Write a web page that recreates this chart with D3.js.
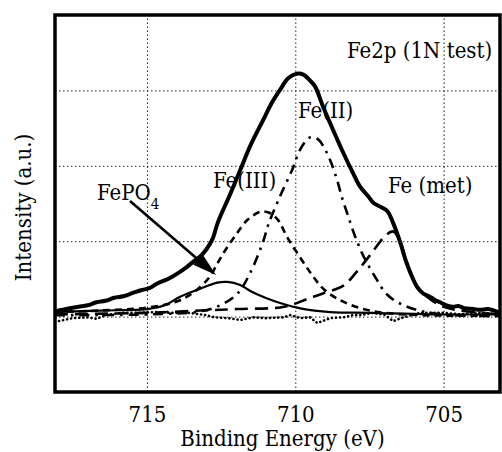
<!DOCTYPE html>
<html>
<head>
<meta charset="utf-8">
<script src="https://cdn.jsdelivr.net/npm/d3@7"></script>
<style>
  body { margin: 0; background: #fff; }
  svg text { font-family: "DejaVu Serif", serif; font-stretch: condensed; }
</style>
</head>
<body>
<div id="chart"></div>
<script>
// binding energy ticks (eV) and intensity grid levels (a.u.)
const xTicks = [715, 710, 705];
const yGrid = [1, 2, 3, 4];

// measured spectrum / envelope [BE, intensity]
const envelope = [
  [718.1, 1.07], [717.6, 1.11], [717.3, 1.13], [717.0, 1.15], [716.7, 1.19], [716.4, 1.21],
  [716.1, 1.25], [715.8, 1.27], [715.5, 1.31], [715.2, 1.35], [714.9, 1.38], [714.65, 1.44],
  [714.4, 1.48], [714.15, 1.53], [713.9, 1.59], [713.65, 1.66], [713.4, 1.74], [713.2, 1.8],
  [713.0, 1.89], [712.8, 2.02], [712.6, 2.26], [712.2, 2.62], [711.86, 2.94], [711.5, 3.28],
  [711.08, 3.61], [710.8, 3.83], [710.51, 4.01], [710.24, 4.16], [709.95, 4.22], [709.73, 4.21],
  [709.5, 4.13], [709.33, 4.05], [709.06, 3.78], [708.72, 3.47], [708.38, 3.17], [708.05, 2.9],
  [707.81, 2.72], [707.55, 2.6], [707.37, 2.51], [707.1, 2.45], [706.9, 2.4], [706.7, 2.24],
  [706.46, 1.98], [706.29, 1.76], [706.12, 1.58], [705.89, 1.39], [705.7, 1.31], [705.55, 1.28],
  [705.4, 1.25], [705.3, 1.22], [705.12, 1.19], [704.9, 1.15], [704.68, 1.13], [704.5, 1.14],
  [704.3, 1.11], [704.0, 1.1], [703.77, 1.09], [703.5, 1.1], [703.3, 1.08], [703.1, 1.05]
];

// fitted components [BE, intensity]
const fePO4 = [
  [718.1, 1.06], [716.6, 1.08], [715.0, 1.1], [714.4, 1.15], [713.9, 1.26], [713.2, 1.37],
  [712.63, 1.45], [712.29, 1.46], [711.86, 1.42], [711.52, 1.34], [711.01, 1.25], [710.51, 1.18],
  [709.83, 1.11], [708.82, 1.06], [707.47, 1.05], [705.45, 1.03], [703.1, 1.03]
];
const fe3 = [
  [718.1, 1.06], [716.6, 1.08], [715.0, 1.12], [714.0, 1.2], [713.4, 1.33], [712.9, 1.52],
  [712.62, 1.71], [712.36, 1.88], [711.96, 2.11], [711.62, 2.28], [711.18, 2.39], [710.9, 2.38],
  [710.6, 2.29], [710.27, 2.05], [709.83, 1.78], [709.43, 1.55], [709.06, 1.37], [708.5, 1.22],
  [707.8, 1.11], [707.0, 1.05], [705.8, 1.02], [703.1, 1.01]
];
const fe2 = [
  [718.1, 1.02], [714.9, 1.03], [713.2, 1.07], [712.53, 1.15], [711.96, 1.3], [711.52, 1.58],
  [711.08, 2.0], [710.91, 2.22], [710.51, 2.6], [710.09, 2.96], [709.83, 3.22], [709.49, 3.38],
  [709.23, 3.35], [709.0, 3.22], [708.8, 3.05], [708.59, 2.81], [708.42, 2.57], [708.25, 2.37],
  [708.0, 2.08], [707.7, 1.8], [707.3, 1.52], [706.9, 1.29], [706.35, 1.15], [705.45, 1.05],
  [704.1, 1.01], [703.1, 1.01]
];
const feMet = [
  [718.1, 1.03], [715.0, 1.05], [713.2, 1.08], [711.96, 1.1], [710.5, 1.12], [710.17, 1.15],
  [709.62, 1.23], [709.05, 1.31], [708.38, 1.41], [707.94, 1.59], [707.47, 1.82], [706.97, 2.07],
  [706.7, 2.13], [706.46, 1.99], [706.29, 1.78], [706.12, 1.59], [705.89, 1.39], [705.55, 1.26],
  [705.12, 1.15], [704.6, 1.09], [703.77, 1.05], [703.1, 1.03]
];
// fit residual (dotted)
const residual = [
  [718.1, 0.93], [717.8, 0.955], [717.5, 0.98], [717.0, 0.99], [716.7, 0.97], [716.4, 1.02],
  [715.83, 1.05], [715.3, 1.05], [714.72, 1.06], [714.15, 1.05], [713.6, 1.05], [713.03, 1.02],
  [712.7, 0.99], [712.29, 0.98], [711.85, 0.955], [711.41, 0.99], [711.0, 0.98], [710.4, 0.99],
  [710.17, 1.02], [709.83, 0.98], [709.5, 0.99], [709.26, 0.915], [708.82, 0.98], [708.38, 0.99],
  [708.05, 1.02], [707.8, 1.02], [707.37, 1.05], [706.97, 1.02], [706.7, 0.94], [706.36, 0.99],
  [705.79, 1.05], [705.35, 1.05], [705.0, 1.05], [704.44, 1.03], [703.77, 1.05], [703.1, 1.03]
];

const FONT = "DejaVu Serif";
const W = 502, H = 452;
const margin = { top: 15, right: 2, bottom: 60, left: 55 };
const innerW = W - margin.left - margin.right;
const innerH = H - margin.top - margin.bottom;

const svg = d3.select("#chart").append("svg")
  .attr("width", W).attr("height", H);

const g = svg.append("g")
  .attr("transform", `translate(${margin.left},${margin.top})`);

const x = d3.scaleLinear().domain([718.1, 703.1]).range([0, innerW]);
const y = d3.scaleLinear().domain([0, 5]).range([innerH, 0]);

g.append("defs").append("clipPath").attr("id", "plot-clip")
  .append("rect").attr("width", innerW).attr("height", innerH);

// x axis with dotted grid
const xAxis = g.append("g")
  .attr("transform", `translate(0,${innerH})`)
  .call(d3.axisBottom(x).tickValues(xTicks).tickSize(-innerH).tickPadding(14).tickFormat(d3.format("d")))
  .attr("font-family", FONT);
xAxis.select(".domain").remove();
xAxis.selectAll("line")
  .attr("stroke", "#222").attr("stroke-width", 1).attr("stroke-dasharray", "1.5,2.5");
xAxis.selectAll("text").attr("font-size", 22).attr("fill", "#000");

const yAxis = g.append("g")
  .call(d3.axisLeft(y).tickValues(yGrid).tickSize(-innerW).tickFormat(""));
yAxis.select(".domain").remove();
yAxis.selectAll("line")
  .attr("stroke", "#222").attr("stroke-width", 1).attr("stroke-dasharray", "1.5,2.5");

const line = d3.line().x(d => x(d[0])).y(d => y(d[1]));
const smooth = d3.line().x(d => x(d[0])).y(d => y(d[1])).curve(d3.curveCatmullRom.alpha(0.5));

const curves = g.append("g").attr("clip-path", "url(#plot-clip)");

curves.append("path").datum(residual)
  .attr("d", line).attr("fill", "none").attr("stroke", "#000")
  .attr("stroke-width", 2.6).attr("stroke-linecap", "round").attr("stroke-dasharray", "0.1,4");

curves.append("path").datum(fePO4)
  .attr("d", smooth).attr("fill", "none").attr("stroke", "#000").attr("stroke-width", 2.2);

curves.append("path").datum(fe3)
  .attr("d", smooth).attr("fill", "none").attr("stroke", "#000")
  .attr("stroke-width", 2.6).attr("stroke-dasharray", "7,5");

curves.append("path").datum(fe2)
  .attr("d", smooth).attr("fill", "none").attr("stroke", "#000")
  .attr("stroke-width", 2.6).attr("stroke-dasharray", "10,6,2.5,6");

curves.append("path").datum(feMet)
  .attr("d", smooth).attr("fill", "none").attr("stroke", "#000")
  .attr("stroke-width", 2.6).attr("stroke-dasharray", "13,7");

curves.append("path").datum(envelope)
  .attr("d", smooth).attr("fill", "none").attr("stroke", "#000")
  .attr("stroke-width", 4).attr("stroke-linejoin", "round");

// frame
g.append("rect")
  .attr("width", innerW).attr("height", innerH)
  .attr("fill", "none").attr("stroke", "#000").attr("stroke-width", 3.5);

// labels
const label = (tx, ty, txt) => svg.append("text")
  .attr("x", tx).attr("y", ty).attr("font-size", 22).attr("fill", "#000")
  .attr("font-family", FONT).text(txt);

label(347, 58, "Fe2p (1N test)");
label(298, 118, "Fe(II)");
label(213, 188, "Fe(III)");
label(388, 193, "Fe (met)");

const fp = svg.append("text").attr("x", 97).attr("y", 200).attr("font-size", 22)
  .attr("fill", "#000").attr("font-family", FONT);
fp.append("tspan").text("FePO");
fp.append("tspan").attr("font-size", 15).attr("dy", 9).text("4");

// arrow to the FePO4 component
const ax0 = 130, ay0 = 201, ax1 = 216, ay1 = 275;
const ang = Math.atan2(ay1 - ay0, ax1 - ax0);
const hl = 24, hw = 7;
svg.append("line")
  .attr("x1", ax0).attr("y1", ay0)
  .attr("x2", ax1 - Math.cos(ang) * hl * 0.8).attr("y2", ay1 - Math.sin(ang) * hl * 0.8)
  .attr("stroke", "#000").attr("stroke-width", 2.6);
const bx = ax1 - Math.cos(ang) * hl, by = ay1 - Math.sin(ang) * hl;
svg.append("path")
  .attr("d", `M${ax1},${ay1} L${bx + Math.sin(ang) * hw},${by - Math.cos(ang) * hw} L${bx - Math.sin(ang) * hw},${by + Math.cos(ang) * hw} Z`)
  .attr("fill", "#000");

// axis titles
svg.append("text")
  .attr("x", margin.left + innerW / 2 + 5).attr("y", 446)
  .attr("text-anchor", "middle").attr("font-size", 22).attr("fill", "#000")
  .attr("font-family", FONT)
  .text("Binding Energy (eV)");

svg.append("text")
  .attr("transform", `translate(31,${margin.top + innerH / 2 + 4}) rotate(-90)`)
  .attr("text-anchor", "middle").attr("font-size", 22).attr("fill", "#000")
  .attr("font-family", FONT)
  .text("Intensity (a.u.)");
</script>
</body>
</html>
